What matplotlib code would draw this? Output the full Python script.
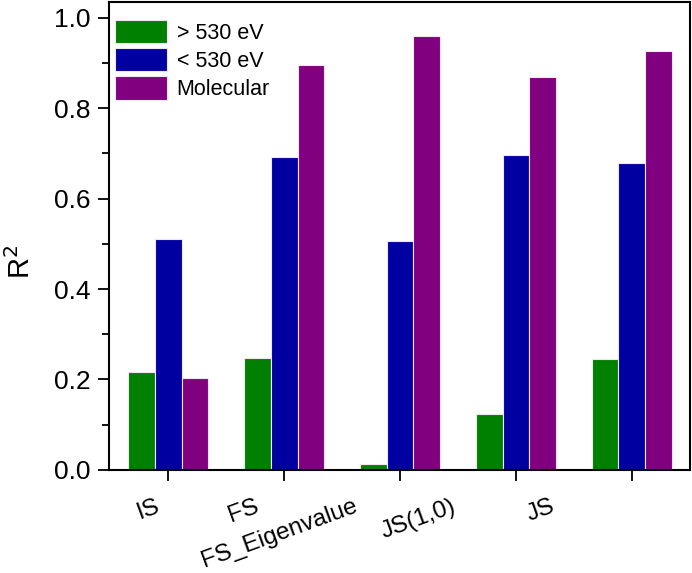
import numpy as np
import matplotlib
matplotlib.use("Agg")
import matplotlib.pyplot as plt
from matplotlib.ticker import MultipleLocator

plt.rcParams['font.family'] = ['Liberation Sans', 'DejaVu Sans']

categories = ["IS", "FS", "FS_Eigenvalue", "JS(1,0)", "JS"]
above_530 = [0.217, 0.248, 0.013, 0.124, 0.245]
below_530 = [0.510, 0.692, 0.507, 0.697, 0.678]
molecular = [0.204, 0.895, 0.960, 0.868, 0.926]

series = [("> 530 eV", above_530, "#008000"),
          ("< 530 eV", below_530, "#0000A0"),
          ("Molecular", molecular, "#800080")]

fig = plt.figure(figsize=(6.92, 5.73), dpi=100)
ax = fig.add_axes([0.1575, 0.18, 0.997 - 0.1575, 0.9965 - 0.18])

x = np.arange(len(categories))
w = 0.232
for k, (name, vals, col) in enumerate(series):
    ax.bar(x + (k - 1) * w, vals, width=w, color=col, edgecolor="#f0e6f0",
           linewidth=0.8, label=name)

ax.set_xlim(-0.51, 4.5)
ax.set_ylim(0, 1.035)
ax.yaxis.set_minor_locator(MultipleLocator(0.1))
ax.set_yticks([0.0, 0.2, 0.4, 0.6, 0.8, 1.0])
ax.set_yticklabels(["0.0", "0.2", "0.4", "0.6", "0.8", "1.0"])
ax.tick_params(axis="y", which="major", direction="out", length=8, width=1.3,
               labelsize=19, pad=5)
ax.tick_params(axis="y", which="minor", direction="out", length=5, width=1.3)
ax.set_xticks(x)
ax.set_xticklabels([])
ax.tick_params(axis="x", which="major", direction="out", length=8, width=1.3)
for s in ax.spines.values():
    s.set_linewidth(1.5)

# the labels sit left of their ticks, drifting further left along the axis
for i, lab in enumerate(categories):
    ax.text(i - 0.11 - 0.148 * i, -0.055, lab, transform=ax.get_xaxis_transform(),
            rotation=20, ha="right", va="top", rotation_mode="anchor", fontsize=17.5)

ax.set_ylabel("R$^2$", fontsize=21)
ax.yaxis.set_label_coords(-0.125, 0.444)

ax.legend(loc="upper left", frameon=False, fontsize=15.5, handlelength=2.42,
          handleheight=1.3, labelspacing=0.2, handletextpad=0.45,
          borderpad=0, borderaxespad=0, bbox_to_anchor=(0.01, 0.962))

fig.savefig("out.png", dpi=100)
